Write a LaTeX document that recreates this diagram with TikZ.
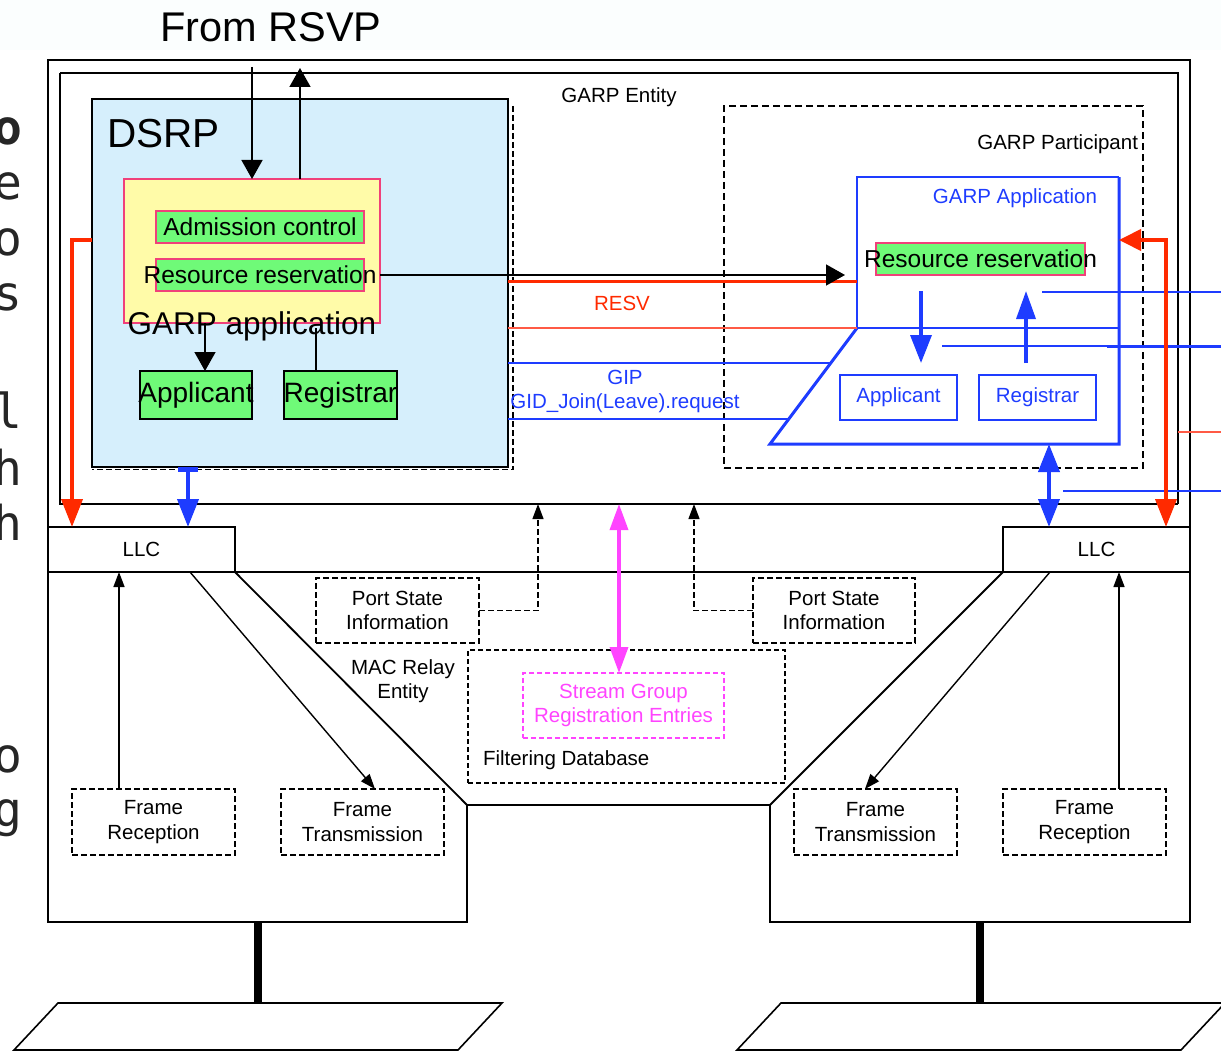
\documentclass[tikz,border=0pt]{standalone}
\usepackage{fontspec}
\setmainfont{Liberation Sans}
\newfontfamily\fragfont{DejaVu Sans Mono}
\usetikzlibrary{arrows.meta}

\definecolor{dsrpfill}{HTML}{D6EFFC}
\definecolor{appfill}{HTML}{FFFBA8}
\definecolor{pinkedge}{HTML}{F0407A}
\definecolor{blockgreen}{HTML}{6FFA78}
\definecolor{garpblue}{HTML}{1E3CFF}
\definecolor{resvred}{HTML}{FF2A00}
\definecolor{softred}{HTML}{FF5A45}
\definecolor{streampink}{HTML}{FF44FF}
\definecolor{haze}{HTML}{FBFEFE}

\begin{document}
\begin{tikzpicture}[x=1pt,y=-1pt,
  every node/.style={inner sep=0pt, outer sep=0pt},
  lbl/.style={font=\fontsize{20.5}{24.5}\selectfont, align=center},
  frag/.style={font=\fragfont\fontsize{48}{54}\selectfont, anchor=base east, text=black!85},
  rect/.style={draw, line width=1.3pt},
  dashbox/.style={draw, line width=1.4pt, dash pattern=on 6pt off 3pt},
  greenbox/.style={draw=pinkedge, fill=blockgreen, line width=1.3pt},
  bluebox/.style={draw=garpblue, fill=white, line width=2pt, text=garpblue},
  bigtip/.style={line width=1.5pt, -{Triangle[length=19pt,width=21pt]}},
  smalltip/.style={line width=1.4pt, -{Triangle[length=15pt,width=11pt]}},
  fatred/.style={draw=resvred, line width=4pt},
  fatblue/.style={draw=garpblue, line width=4pt},
]
\useasboundingbox (0,0) rectangle (1221,1054);
\fill[haze] (0,0) rectangle (1221,50);

% ---- fragments of text cut by the left edge
\node[frag, font=\fragfont\bfseries\fontsize{48}{54}\selectfont] (fa) at (22,145) {o};
\node[frag] (fb) at (22,200) {e};
\node[frag] (fc) at (22,255) {o};
\node[frag] (fd) at (22,310) {s};
\node[frag] (fe) at (22,428) {l};
\node[frag] (ff) at (22,485) {h};
\node[frag] (fg) at (22,540) {h};
\node[frag] (fh) at (22,772) {o};
\node[frag] (fi) at (22,826) {g};

% ---- header
\node[font=\fontsize{41.5}{48}\selectfont] (rsvp) at (271,27) {From RSVP};

% ---- bridge outline
\draw[line width=1.6pt] (48,60) -- (1190,60) -- (1190,922) -- (770,922) -- (770,805)
  -- (467,805) -- (467,922) -- (48,922) -- cycle;
\draw[line width=2.6pt] (48,922) -- (467,922) (770,922) -- (1190,922);
\draw[line width=2.2pt] (48,572) -- (1190,572);
\coordinate (relayL) at (467,805);
\coordinate (relayR) at (770,805);

% ---- stations and media
\draw[line width=8pt] (258,922) -- (258,1003);
\draw[line width=8pt] (980,922) -- (980,1003);
\draw[line width=1.6pt] (58,1003) -- (502,1003) -- (458,1050) -- (14,1050) -- cycle;
\draw[line width=1.6pt] (781,1003) -- (1225,1003) -- (1181,1050) -- (737,1050) -- cycle;
\draw[line width=2.6pt] (14,1050) -- (458,1050) (737,1050) -- (1181,1050);

% ---- GARP entity frame
\node[minimum width=1118pt, minimum height=431pt] (garp) at (619,288.5) {};
\draw[line width=1.2pt] (garp.north west) -- (garp.south west) -- (garp.south east);
\draw[line width=2.6pt] (garp.north west) -- (garp.north east) -- (garp.south east);
\node[lbl] (garpLbl) at (619,97) {GARP Entity};

% ---- GARP participant
\node[draw, line width=1.5pt, dash pattern=on 7pt off 4pt,
      minimum width=419pt, minimum height=362pt] (part) at (933.5,287) {};
\node[lbl, anchor=east] (partLbl) at (1138,144) {GARP Participant};

% ---- DSRP block
\node[draw, fill=dsrpfill, line width=1.6pt, minimum width=416pt, minimum height=368pt] (dsrp) at (300,283) {};
\draw[line width=1.3pt, dash pattern=on 6pt off 3pt] ([xshift=5pt,yshift=-7pt]dsrp.north east) -- ([xshift=5pt,yshift=-2.5pt]dsrp.south east)
  -- ([yshift=-2.5pt]dsrp.south west);
\node[font=\fontsize{40.5}{46}\selectfont, anchor=base west] (dsrpLbl) at (107,148) {DSRP};

\node[draw=pinkedge, fill=appfill, line width=1.2pt, minimum width=256pt, minimum height=144pt] (ga) at (252,251) {};
\node[greenbox, minimum width=208pt, minimum height=32pt,
      label={[font=\fontsize{24.5}{28}\selectfont]center:Admission control}] (adm) at (260,227) {};
\node[greenbox, minimum width=208pt, minimum height=32pt,
      label={[font=\fontsize{24.5}{28}\selectfont]center:Resource reservation}] (resL) at (260,275) {};
\node[font=\fontsize{31.5}{36}\selectfont] (gaLbl) at (252,326) {GARP application};
\node[draw, fill=blockgreen, line width=1.5pt, minimum width=112pt, minimum height=48pt,
      label={[font=\fontsize{28}{32}\selectfont]center:Applicant}] (app) at (196,395) {};
\node[draw, fill=blockgreen, line width=1.5pt, minimum width=113pt, minimum height=48pt,
      label={[font=\fontsize{28}{32}\selectfont]center:Registrar}] (reg) at (340.5,395) {};

% RSVP interface
\coordinate (rsvpIn) at (252,67);
\coordinate (rsvpOut) at (300,68);
\draw[bigtip] (rsvpIn) -- (rsvpIn |- ga.north);
\draw[bigtip] (rsvpOut |- ga.north) -- (rsvpOut);
\coordinate (appX) at (205,0);
\coordinate (regX) at (316,0);
\draw[bigtip] (appX |- ga.south) -- (appX |- app.north);
\draw[line width=1.5pt] (regX |- reg.north) -- ([yshift=-5pt]regX |- ga.south);

% ---- GARP application (bridge side)
\node[minimum width=262pt, minimum height=267pt] (gapp) at (988,310.5) {};
\coordinate (slTop) at (857,328);
\coordinate (slBot) at (770,444);
\draw[garpblue, line width=2pt] (slTop) -- (gapp.north west) -- (gapp.north east);
\draw[garpblue, line width=3pt] (gapp.north east) -- (gapp.south east) -- (slBot) -- (slTop);
\node[lbl, anchor=east, text=garpblue] (gappLbl) at (1097,198) {GARP Application};
\node[greenbox, minimum width=209pt, minimum height=32pt,
      label={[font=\fontsize{24.5}{28}\selectfont]center:Resource reservation}] (resR) at (980.5,259) {};
\node[bluebox, lbl, minimum width=117pt, minimum height=45pt] (appR) at (898.5,397.5) {Applicant};
\node[bluebox, lbl, minimum width=117pt, minimum height=45pt] (regR) at (1037.5,397.5) {Registrar};

% ---- signal levels between the two sides
\coordinate (lvBlk) at (0,275);
\coordinate (lvResv) at (0,281);
\coordinate (lvLow) at (0,328);
\coordinate (lvGip) at (0,363);
\coordinate (lvGid) at (0,419);
\coordinate (lvRed) at (0,240);
\coordinate (lvInTop) at (0,291);
\coordinate (lvB1) at (0,292);
\coordinate (lvB2) at (0,346);
\coordinate (lvR3) at (0,432);
\coordinate (lvB4) at (0,491);
\coordinate (edge) at (1221,0);
\coordinate (gipEnd) at (830.7,363);
\coordinate (gidEnd) at (788.7,419);

\draw[resvred, line width=3pt] (dsrp.east |- lvResv) -- (gapp.west |- lvResv);
\draw[bigtip, shorten >=12pt] (ga.east |- lvBlk) -- (gapp.west |- lvBlk);
\node[lbl, text=resvred] (resvLbl) at (622,303) {RESV};
\draw[softred, line width=1.5pt] (dsrp.east |- lvLow) -- (slTop);
\draw[garpblue, line width=1.5pt] (slTop) -- (gapp.east |- lvLow);
\draw[garpblue, line width=1.5pt] (dsrp.east |- lvGip) -- (gipEnd);
\draw[garpblue, line width=1.5pt] (dsrp.east |- lvGid) -- (gidEnd);
\node[lbl, text=garpblue] (gipLbl) at (625,377) {GIP};
\node[lbl, text=garpblue] (gidLbl) at (625,403) {GID\_Join(Leave).request};

% GARP application internals
\coordinate (dnX) at (921,0);
\coordinate (upX) at (1026,0);
\draw[garpblue, line width=3.5pt, -{Triangle[length=28pt,width=21pt]}] (dnX |- lvInTop) -- (dnX |- lvGip);
\draw[garpblue, line width=3.5pt, -{Triangle[length=28pt,width=19pt]}] (upX |- lvGip) -- (upX |- lvInTop);
\draw[garpblue, line width=1.5pt] (1042,292) -- (edge |- lvB1);
\draw[garpblue, line width=1.5pt] (942,346) -- (gapp.east |- lvB2);
\draw[garpblue, line width=3pt] (1107,346) -- (edge |- lvB2);
\draw[softred, line width=1.5pt] (garp.east |- lvR3) -- (edge |- lvR3);
\draw[garpblue, line width=2pt] (1063,491) -- (edge |- lvB4);

% ---- LLC boxes
\node[rect, lbl, minimum width=187pt, minimum height=45pt] (llcL) at (141.5,549.5) {LLC};
\node[rect, lbl, minimum width=187pt, minimum height=45pt] (llcR) at (1096.5,549.5) {LLC};
\draw[line width=1.8pt] (llcL.south east) -- (relayL);
\draw[line width=1.8pt] (llcR.south west) -- (relayR);

% red service path to LLC
\coordinate (redL) at (72,0);
\coordinate (redR) at (1166,0);
\draw[fatred, -{Triangle[length=28pt,width=21pt]}] (dsrp.west |- lvRed) -| (redL |- llcL.north);
\draw[fatred, {Triangle[length=22pt,width=21pt]}-{Triangle[length=28pt,width=21pt]}]
  (gapp.east |- lvRed) -| (redR |- llcR.north);

% blue GARP PDUs to LLC
\coordinate (blL) at (188,0);
\coordinate (blR) at (1049,0);
\draw[fatblue, {Rectangle[length=5pt,width=20pt]}-{Triangle[length=28pt,width=21pt]}]
  (blL |- dsrp.south) -- (blL |- llcL.north);
\draw[fatblue, {Triangle[length=28pt,width=21pt]}-{Triangle[length=28pt,width=21pt]}]
  (blR |- gapp.south) -- (blR |- llcR.north);

% ---- MAC relay entity
\node[lbl] (relayLbl) at (403,681) {MAC Relay\\Entity};
\node[dashbox, lbl, line width=1.2pt, minimum width=163pt, minimum height=65pt] (psL) at (397.5,610.5) {Port State\\Information};
\node[dashbox, lbl, line width=1.2pt, minimum width=162pt, minimum height=65pt] (psR) at (834,610.5) {Port State\\Information};
\coordinate (psLup) at (538,0);
\coordinate (psRup) at (694,0);
\draw[smalltip, line width=1.2pt, dash pattern=on 6pt off 3pt] (psL.east) -| (psLup |- garp.south);
\draw[smalltip, line width=1.2pt, dash pattern=on 6pt off 3pt] (psR.west) -| (psRup |- garp.south);

\node[draw, line width=1.2pt, dash pattern=on 5pt off 3pt, minimum width=317pt, minimum height=133pt] (fdb) at (626.5,716.5) {};
\node[lbl, anchor=west] (fdbLbl) at (483,760) {Filtering Database};
\node[draw=streampink, line width=1.4pt, dash pattern=on 5pt off 3pt, minimum width=201pt, minimum height=65pt,
      lbl, text=streampink] (sgre) at (623.5,705.5) {Stream Group\\Registration Entries};
\draw[streampink, line width=3.5pt, {Triangle[length=26pt,width=18pt]}-{Triangle[length=26pt,width=18pt]}]
  ([xshift=-4.5pt]sgre.north) -- ([xshift=-4.5pt]sgre.north |- garp.south);

% ---- frame reception / transmission
\node[dashbox, lbl, minimum width=163pt, minimum height=66pt] (frL) at (153.5,822) {Frame\\Reception};
\node[dashbox, lbl, minimum width=163pt, minimum height=66pt] (ftL) at (362.5,822) {Frame\\Transmission};
\node[dashbox, lbl, minimum width=163pt, minimum height=66pt] (ftR) at (875.5,822) {Frame\\Transmission};
\node[dashbox, lbl, minimum width=163pt, minimum height=66pt] (frR) at (1084.5,822) {Frame\\Reception};
\coordinate (rxL) at (119,0);
\coordinate (txLs) at (190,0);
\coordinate (txLe) at (375,0);
\coordinate (txRs) at (1050,0);
\coordinate (txRe) at (865,0);
\coordinate (rxR) at (1119,0);
\draw[smalltip] (frL.north -| rxL) -- (rxL |- llcL.south);
\draw[smalltip] (txLs |- llcL.south) -- (ftL.north -| txLe);
\draw[smalltip] (txRs |- llcR.south) -- (ftR.north -| txRe);
\draw[smalltip] (frR.north -| rxR) -- (rxR |- llcR.south);
\end{tikzpicture}
\end{document}
